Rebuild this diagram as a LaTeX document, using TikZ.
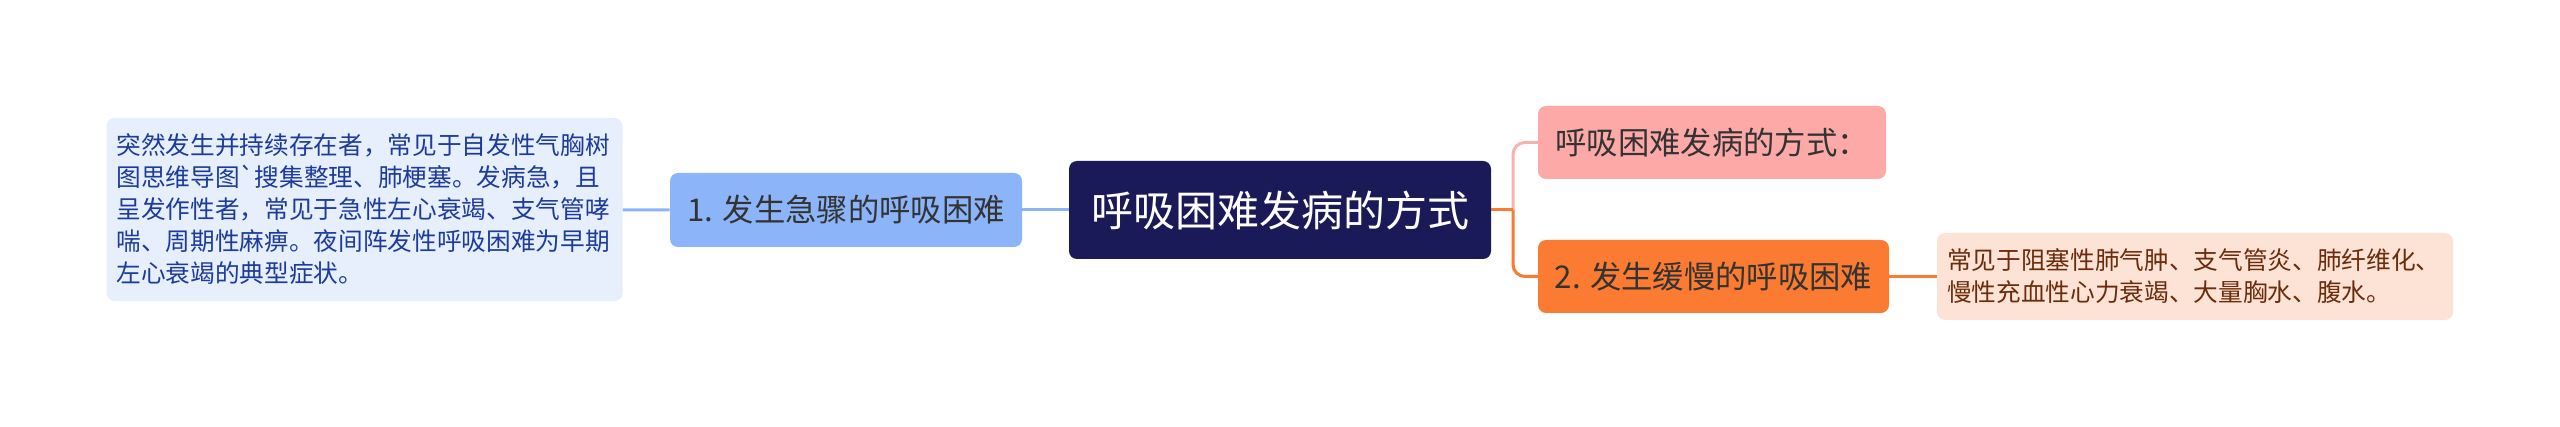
\documentclass[tikz,border=0pt]{standalone}
\usepackage{fontspec}
\setmainfont{Noto Sans CJK SC}[Ligatures=TeXOff]
\definecolor{rootfill}{HTML}{1B1A58}
\definecolor{bluefill}{HTML}{8CB5F9}
\definecolor{bluenote}{HTML}{E7EEFC}
\definecolor{bluetext}{HTML}{1C3C9C}
\definecolor{pinkfill}{HTML}{FCA9A8}
\definecolor{pinkline}{HTML}{F6B3AE}
\definecolor{orangefill}{HTML}{FA7B31}
\definecolor{orangenote}{HTML}{FDE3D6}
\definecolor{browntext}{HTML}{6B2C0C}
\definecolor{darktext}{HTML}{333333}

\begin{document}
\begin{tikzpicture}[x=0.75pt,y=-0.75pt,
		box/.style={rounded corners=6pt, inner sep=0pt, align=center},
		note/.style={rounded corners=6pt, inner xsep=7.5pt, inner ysep=0pt, text width=372pt, align=left,
			font=\fontsize{18.5}{24}\selectfont},
		bline/.style={draw=bluefill, line width=2.25pt},
		oline/.style={draw=orangefill, line width=2.25pt},
		pline/.style={draw=pinkline, line width=2.25pt}]
	\useasboundingbox (0,0) rectangle (2560,427);

	\node[box, fill=rootfill, text=white, minimum width=316.5pt, minimum height=73.5pt,
		font=\fontsize{31.5}{36}\selectfont] (root) at (1280,210) {呼吸困难发病的方式};

	\node[box, fill=bluefill, text=darktext, minimum width=264pt, minimum height=55.5pt,
		font=\fontsize{23.5}{28}\selectfont] (b1) at (846,210) {1. 发生急骤的呼吸困难};
	\node[note, fill=bluenote, text=bluetext, minimum height=137.25pt] (n1) at (364.5,209.5)
		{突然发生并持续存在者，常见于自发性气胸树\\图思维导图`搜集整理、肺梗塞。发病急，且\\呈发作性者，常见于急性左心衰竭、支气管哮\\喘、周期性麻痹。夜间阵发性呼吸困难为早期\\左心衰竭的典型症状。};

	\node[box, fill=pinkfill, text=darktext, minimum width=261pt, minimum height=54.75pt,
		font=\fontsize{23.5}{28}\selectfont] (b0) at (1712,142.5) {呼吸困难发病的方式：};
	\node[box, fill=orangefill, text=darktext, minimum width=263.25pt, minimum height=54.75pt,
		font=\fontsize{23.5}{28}\selectfont] (b2) at (1713.5,276.5) {2. 发生缓慢的呼吸困难};
	\node[note, fill=orangenote, text=browntext, minimum height=65.25pt] (n2) at (2195,276.5)
		{常见于阻塞性肺气肿、支气管炎、肺纤维化、\\慢性充血性心力衰竭、大量胸水、腹水。};

	\coordinate (fork) at (1513,210);

	% left side
	\draw[bline] (root) -- (b1);
	\draw[bline] (b1) -- (n1);

	% right side
	\draw[pline, rounded corners=9pt] (fork) |- (b0.west);
	\draw[oline, rounded corners=9pt] (fork) |- (b2.west);
	\draw[oline] (root.east) -- (fork);
	\draw[oline] (b2) -- (n2);
\end{tikzpicture}
\end{document}
